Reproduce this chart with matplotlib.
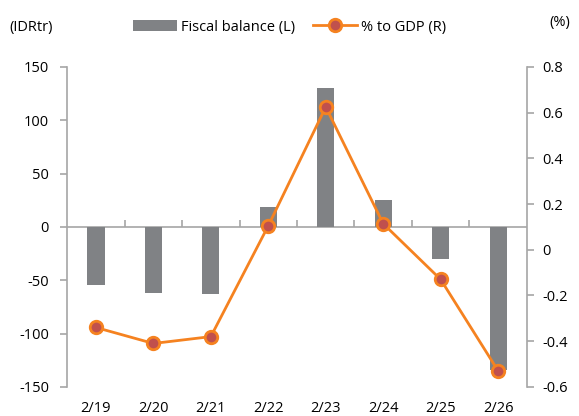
import matplotlib.pyplot as plt
import numpy as np

# data
months = ["2/19", "2/20", "2/21", "2/22", "2/23", "2/24", "2/25", "2/26"]
fiscal_balance = [-54, -62, -63, 19, 130, 25, -30, -134]   # IDR tr, left axis
pct_gdp = [-0.34, -0.41, -0.38, 0.105, 0.625, 0.114, -0.13, -0.53]  # %, right axis

BAR_COLOR = "#808285"
LINE_COLOR = "#F58220"
MARKER_FACE = "#C0504D"
AXIS_COLOR = "#A6A6A6"

plt.rcParams["font.family"] = ["Open Sans", "DejaVu Sans"]
plt.rcParams["font.size"] = 10.5
plt.rcParams["axes.unicode_minus"] = False

fig = plt.figure(figsize=(5.79, 4.16), dpi=100)
ax = fig.add_axes([0.116, 0.070, 0.794, 0.769])
x = np.arange(len(months))

bars = ax.bar(x, fiscal_balance, width=0.3, color=BAR_COLOR, zorder=2,
              label="Fiscal balance (L)")
ax.axhline(0, color=AXIS_COLOR, lw=1.2, zorder=1)
ax.set_xlim(-0.5, len(months) - 0.5)
ax.set_ylim(-150, 150)
ax.set_yticks(np.arange(-150, 151, 50))

ax2 = ax.twinx()
line, = ax2.plot(x, pct_gdp, color=LINE_COLOR, lw=2, marker="o", ms=9,
                 mfc=MARKER_FACE, mec=LINE_COLOR, mew=2, zorder=3,
                 label="% to GDP (R)")
ax2.set_ylim(-0.6, 0.8)
ticks_r = np.round(np.arange(-0.6, 0.81, 0.2), 1)
ax2.set_yticks(ticks_r)
ax2.set_yticklabels([f"{v:g}" for v in ticks_r])

for a in (ax, ax2):
    for s in ("top", "bottom"):
        a.spines[s].set_visible(False)
ax.spines["right"].set_visible(False)
ax2.spines["left"].set_visible(False)
ax.spines["left"].set_color(AXIS_COLOR)
ax2.spines["right"].set_color(AXIS_COLOR)
ax.spines["left"].set_linewidth(1.2)
ax2.spines["right"].set_linewidth(1.2)

ax.tick_params(axis="y", colors=AXIS_COLOR, labelcolor="black", length=5, width=1.2, pad=8)
ax2.tick_params(axis="y", colors=AXIS_COLOR, labelcolor="black", length=5, width=1.2, pad=6)
ax.set_xticks(x)
ax.set_xticklabels(months)
ax.tick_params(axis="x", length=0, pad=10)

# category separators on the zero line
zero = ax.secondary_xaxis(0.5)
for sp in zero.spines.values():
    sp.set_visible(False)
zero.set_xticks(np.arange(0.5, len(months) - 1, 1))
zero.set_xticklabels([])
zero.tick_params(axis="x", direction="out", length=5, width=1.2, colors=AXIS_COLOR)

ax2.set_zorder(ax.get_zorder() + 1)
ax2.patch.set_visible(False)

fig.legend([bars, line], ["Fiscal balance (L)", "% to GDP (R)"], loc="center",
           bbox_to_anchor=(0.5, 0.935), ncol=2, frameon=False, handlelength=3,
           columnspacing=1.2, handletextpad=0.3)
fig.text(0.017, 0.935, "(IDRtr)", ha="left", va="center")
fig.text(0.985, 0.945, "(%)", ha="right", va="center")

fig.savefig("out.png", dpi=100)
